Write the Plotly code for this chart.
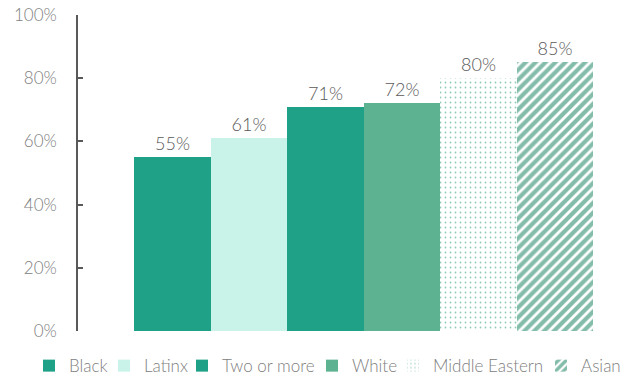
import plotly.graph_objects as go

groups = ["Black", "Latinx", "Two or more", "White", "Middle Eastern", "Asian"]
values = [55, 61, 71, 72, 80, 85]
y_ticks = [0, 20, 40, 60, 80, 100]
y_tick_labels = ["0%", "20%", "40%", "60%", "80%", "100%"]

colors = ["#1fa187", "#c9f2e9", "#1fa187", "#5db391", "#ffffff", "#ffffff"]
patterns = [None, None, None, None,
            dict(shape=".", fgcolor="#1f9478", bgcolor="#ffffff", size=5, solidity=0.1),
            dict(shape="/", fgcolor="#077a55", bgcolor="#ffffff", size=7, solidity=0.6)]
legend_widths = [30, 33, 85, 36, 103, 45]

fig = go.Figure()
for i, (g, v) in enumerate(zip(groups, values)):
    marker = dict(color=colors[i], line=dict(width=0))
    if patterns[i] is not None:
        marker["pattern"] = patterns[i]
    fig.add_trace(go.Bar(
        x=[i], y=[v], name=g, width=1, marker=marker,
        text=[f"{v}%"], textposition="outside", cliponaxis=False,
        textfont=dict(family="Lato", size=18, color="#595959", weight=300),
        legendwidth=legend_widths[i],
        hoverinfo="skip",
    ))

px_per_unit = 76.5
left = -0.5 - 56 / px_per_unit
right = left + 552 / px_per_unit

fig.update_layout(
    width=636, height=379,
    margin=dict(l=78, r=6, t=15, b=48, autoexpand=False),
    paper_bgcolor="white", plot_bgcolor="white",
    barmode="overlay", bargap=0,
    font=dict(family="Lato", color="#808080"),
    showlegend=True,
    legend=dict(orientation="h", x=-0.0888, xanchor="left",
                y=-0.111, yanchor="middle",
                font=dict(family="Lato", size=17, color="#808080", weight=300),
                itemwidth=30, tracegroupgap=0, traceorder="normal"),
    xaxis=dict(range=[left, right], showgrid=False, zeroline=False, showline=False,
               showticklabels=False, ticks=""),
    yaxis=dict(range=[0, 100], tickvals=y_ticks, ticktext=y_tick_labels,
               showgrid=False, zeroline=False, showline=True, linecolor="#595959", linewidth=1.5,
               ticks="inside", ticklen=5, tickcolor="#595959", tickwidth=1.5,
               tickfont=dict(family="Lato", size=17, color="#808080", weight=300),
               ticklabelstandoff=16, automargin=False),
)

fig.write_html("out.html", config={"displayModeBar": False},
               post_script="document.body.style.margin='0px';")
